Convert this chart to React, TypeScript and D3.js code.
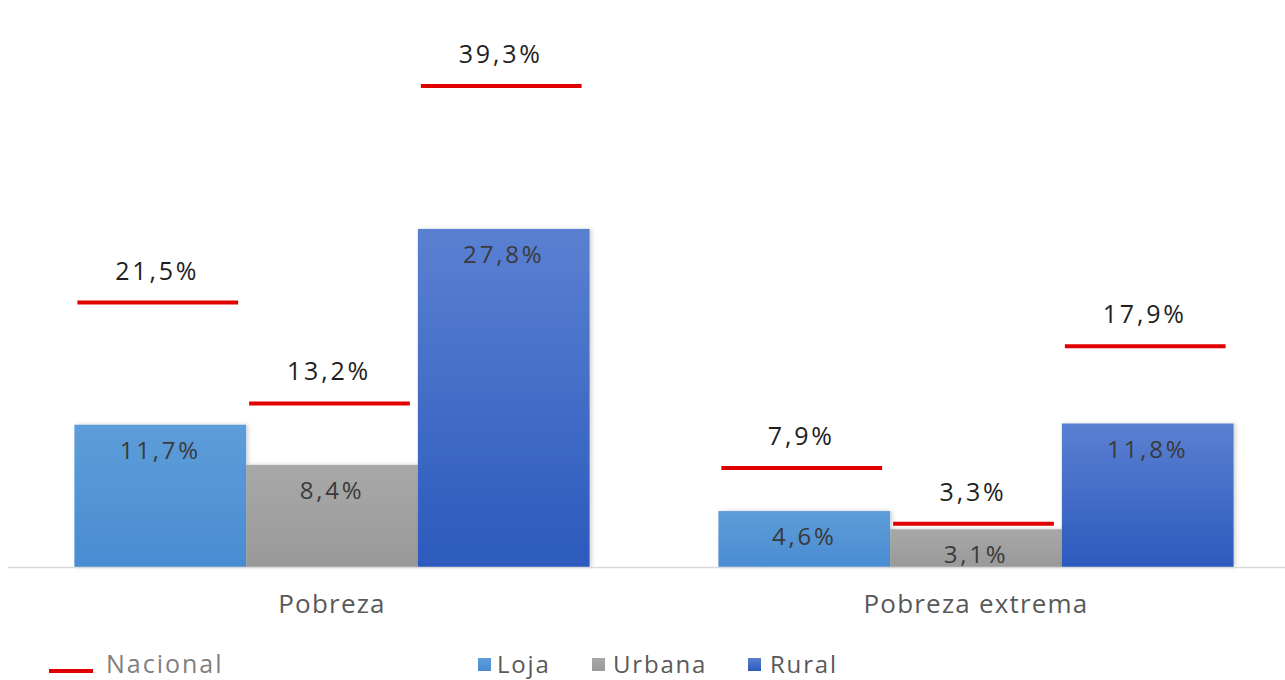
import React from "react";
import * as d3 from "d3";

// chart values
const categories = ["Pobreza", "Pobreza extrema"];
const series = ["Loja", "Urbana", "Rural"];
const lojaValues = [11.7, 4.6];
const urbanaValues = [8.4, 3.1];
const ruralValues = [27.8, 11.8];
const nacionalLoja = [21.5, 7.9];
const nacionalUrbana = [13.2, 3.3];
const nacionalRural = [39.3, 17.9];

const barValues = [lojaValues, urbanaValues, ruralValues];
const nacionalValues = [nacionalLoja, nacionalUrbana, nacionalRural];

const gradients: Record<string, [string, string]> = {
    Loja: ["#5d9dd9", "#4a8cd2"],
    Urbana: ["#a8a8a8", "#999999"],
    Rural: ["#5a80d1", "#2c5abd"],
};

const fmt = (v: number) => v.toFixed(1).replace(".", ",") + "%";

const width = 1285;
const height = 680;
const baseline = 567;
const font = "'Open Sans', 'Noto Sans', sans-serif";

export default function App() {
    const x0 = d3.scaleBand<string>().domain(categories).range([10, 1298]).paddingInner(0.2).paddingOuter(0.1);
    const x1 = d3.scaleBand<string>().domain(series).range([0, x0.bandwidth()]);
    const y = d3.scaleLinear().domain([0, 40]).range([baseline, baseline - 40 * 12.16]);

    const bars = categories.flatMap((c, ci) =>
        series.map((s, si) => ({
            cat: c,
            ser: s,
            x: (x0(c) as number) + (x1(s) as number),
            w: x1.bandwidth(),
            value: barValues[si][ci],
            nacional: nacionalValues[si][ci],
        }))
    );

    const legendSeries = [
        {name: "Loja", sq: 478, tx: 497},
        {name: "Urbana", sq: 592, tx: 613},
        {name: "Rural", sq: 748, tx: 770},
    ];

    return (
        <svg width={width} height={height} style={{position: "absolute", left: 0, top: 0, background: "#fff"}}>
            <defs>
                {series.map(s => (
                    <linearGradient key={s} id={"g-" + s} x1="0" y1="0" x2="0" y2="1">
                        <stop offset="0%" stopColor={gradients[s][0]}/>
                        <stop offset="100%" stopColor={gradients[s][1]}/>
                    </linearGradient>
                ))}
                <filter id="shadow" x="-10%" y="-10%" width="130%" height="130%">
                    <feDropShadow dx="2" dy="0" stdDeviation="2" floodColor="#000" floodOpacity="0.18"/>
                </filter>
            </defs>

            {/* bars */}
            {bars.map(b => (
                <rect key={b.cat + b.ser}
                      x={b.x} y={y(b.value)} width={b.w} height={y(0) - y(b.value)}
                      fill={`url(#g-${b.ser})`} filter="url(#shadow)"/>
            ))}

            {/* axis line */}
            <line x1={8} x2={width} y1={baseline + 0.5} y2={baseline + 0.5} stroke="#d9d9d9" strokeWidth={1.5}/>

            {/* labels inside bars */}
            {bars.map(b => (
                <text key={"l" + b.cat + b.ser} x={b.x + b.w / 2} y={y(b.value) + 34}
                      textAnchor="middle" fontFamily={font} fontSize={24} letterSpacing={2.8}
                      fill="#3a3a3a">{fmt(b.value)}</text>
            ))}

            {/* nacional markers */}
            {bars.map(b => (
                <g key={"n" + b.cat + b.ser}>
                    <line x1={b.x + 3} x2={b.x + b.w - 8} y1={y(b.nacional) - 3} y2={y(b.nacional) - 3}
                          stroke="#e00000" strokeWidth={4}/>
                    <text x={b.x + b.w / 2 - 3} y={y(b.nacional) - 26} textAnchor="middle"
                          fontFamily={font} fontSize={25} letterSpacing={2.8} fill="#1f1f1f">{fmt(b.nacional)}</text>
                </g>
            ))}

            {/* category labels */}
            {categories.map(c => (
                <text key={c} x={(x0(c) as number) + x0.bandwidth() / 2} y={613} textAnchor="middle"
                      fontFamily={font} fontSize={26} letterSpacing={1.2} fill="#595959">{c}</text>
            ))}

            {/* legend */}
            <line x1={49} x2={93} y1={671} y2={671} stroke="#e00000" strokeWidth={4}/>
            <text x={106} y={673} fontFamily={font} fontSize={25} letterSpacing={2} fill="#7f7f7f">Nacional</text>
            {legendSeries.map(l => (
                <g key={l.name}>
                    <rect x={l.sq} y={658} width={13} height={13} fill={`url(#g-${l.name})`}/>
                    <text x={l.tx} y={673} fontFamily={font} fontSize={24} letterSpacing={1.8}
                          fill="#595959">{l.name}</text>
                </g>
            ))}
        </svg>
    );
}
